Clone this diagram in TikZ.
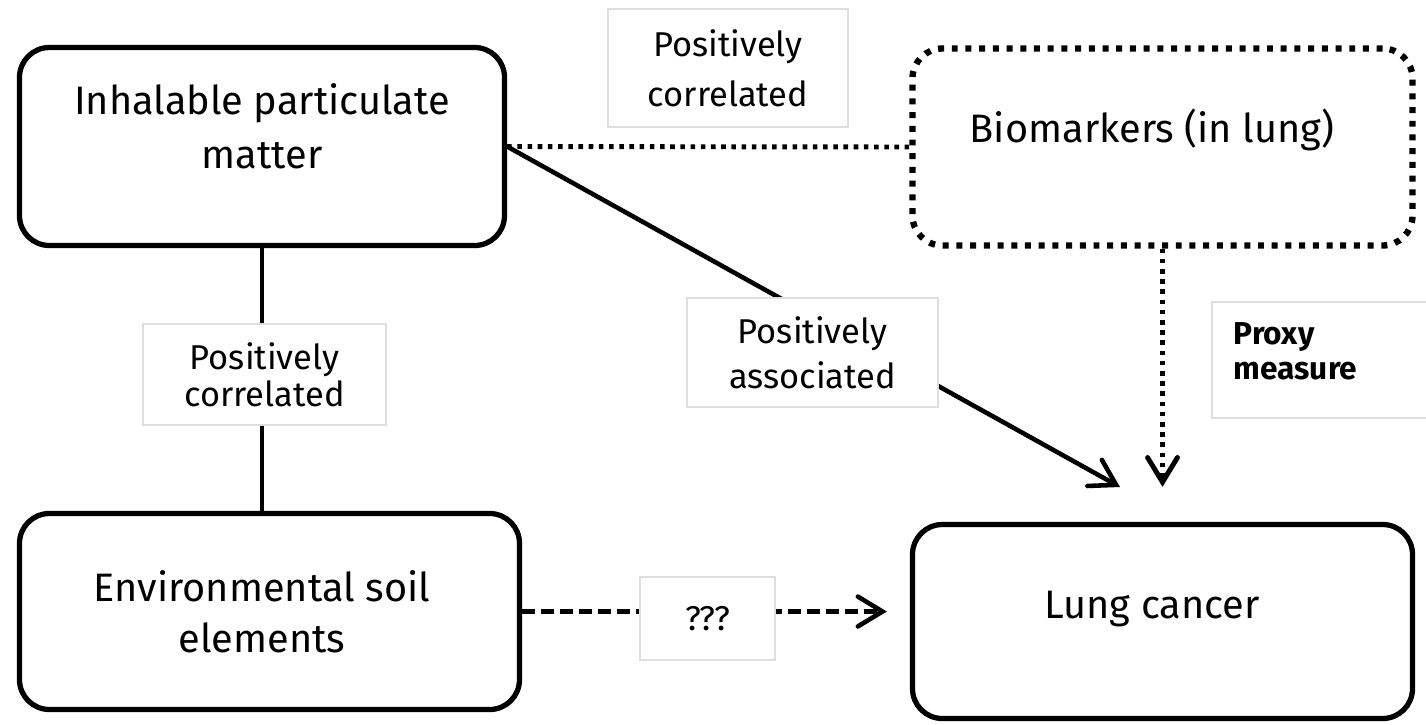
\documentclass[tikz,border=0pt]{standalone}
\usepackage{fontspec}
\setmainfont{Fira Sans}
\usetikzlibrary{arrows.meta}
\pgfdeclarelayer{edgelayer}
\pgfdeclarelayer{nodelayer}
\pgfsetlayers{edgelayer,nodelayer,main}
\tikzstyle{none}=[inner sep=0pt]
\tikzstyle{mainbox}=[rectangle,rounded corners=8.5pt,draw,line width=1.5pt]
\tikzstyle{dotbox}=[mainbox,line width=1.8pt,dash pattern=on 1.7pt off 2.2pt]
\tikzstyle{boxtext}=[inner sep=0pt,align=center,font=\fontsize{11.3}{15.1}\selectfont]
\tikzstyle{lbl}=[rectangle,draw=black!13,line width=0.4pt,fill=white,align=center,inner sep=0pt,font=\fontsize{9.8}{10.5}\selectfont]
\tikzstyle{prxtext}=[inner sep=0pt,align=left,font=\fontsize{9}{10}\selectfont\bfseries]
\tikzstyle{plainedge}=[line width=1.3pt]
\tikzstyle{dotedge}=[line width=1.4pt,dash pattern=on 1.3pt off 1.6pt]
\tikzstyle{dashedge}=[line width=1.3pt,dash pattern=on 3.7pt off 1.7pt]
\tikzstyle{vtip}=[-{Straight Barb[length=7pt,width=8.5pt,line cap=round]}]

\begin{document}
\begin{tikzpicture}
	\useasboundingbox (0,0) rectangle (14.26,-7.24);
	\begin{pgfonlayer}{nodelayer}
		\node [style=mainbox,minimum width=4.85cm,minimum height=1.98cm] (0) at (2.62, -1.465) {};
		\node [style=dotbox,minimum width=5cm,minimum height=1.97cm] (1) at (11.625, -1.47) {};
		\node [style=mainbox,minimum width=5cm,minimum height=1.96cm] (2) at (2.695, -6.115) {};
		\node [style=mainbox,minimum width=5cm,minimum height=1.94cm] (3) at (11.625, -6.215) {};
		\node [style=boxtext,anchor=base] (4) at (2.62, -1.68) {Inhalable particulate\\matter};
		\node [style=boxtext,anchor=base] (5) at (11.52, -1.42) {Biomarkers (in lung)};
		\node [style=boxtext,anchor=base] (6) at (2.62, -6.52) {Environmental soil\\[-0.8pt]elements};
		\node [style=boxtext,anchor=base] (7) at (11.52, -6.18) {Lung cancer};
		\node [style=lbl,minimum width=2.4cm,minimum height=1.18cm] (8) at (7.28, -0.68) {Positively\\[3.7pt]correlated};
		\node [style=lbl,minimum width=2.43cm,minimum height=1.01cm] (9) at (2.645, -3.745) {Positively\\correlated};
		\node [style=lbl,minimum width=2.51cm,minimum height=1.09cm] (10) at (8.125, -3.525) {Positively\\[2.3pt]associated};
		\node [style=lbl,minimum width=2.4cm,minimum height=1.16cm] (11) at (13.32, -3.6) {};
		\node [style=prxtext,anchor=north west] (12) at (12.33, -3.22) {Proxy\\measure};
		\node [style=lbl,minimum width=1.35cm,minimum height=0.83cm] (13) at (7.075, -6.185) {???};
		\coordinate (14) at (11.2, -4.87);
	\end{pgfonlayer}
	\begin{pgfonlayer}{edgelayer}
		\draw [style=dotedge] (0.east) to (1.west);
		\draw [style=plainedge] (0.south) to (0.south |- 2.north);
		\draw [style=plainedge,style=vtip] (0.east) to (14);
		\draw [style=dotedge,style=vtip,shorten >=0.35cm] (1.south) to (3.north);
		\draw [style=dashedge,style=vtip,shorten >=0.23cm] (2.east) to (3.west |- 2.east);
	\end{pgfonlayer}
\end{tikzpicture}
\end{document}
